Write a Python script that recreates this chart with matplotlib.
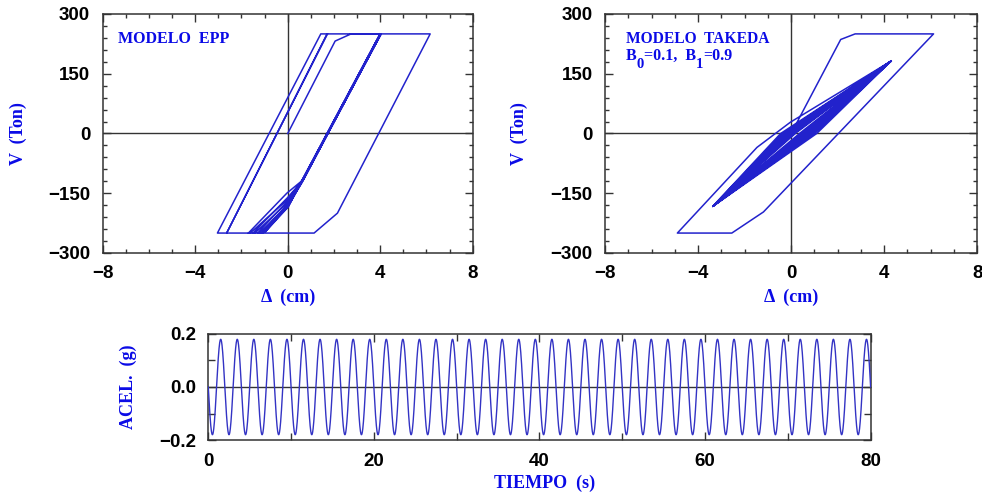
import matplotlib
matplotlib.use("Agg")
import matplotlib.pyplot as plt
import numpy as np
from matplotlib.ticker import MultipleLocator
from matplotlib.transforms import offset_copy

# ---------------- data ----------------
# Elastic-perfectly-plastic hysteresis (displacement cm, shear Ton)
epp_d = [0.00, 2.05, 2.74, 6.16, 2.15, 1.14, -3.04, 1.43, 1.72, -2.64, 1.70, 4.02,
         0.65, -0.04, -1.70, -1.62, 0.00, 0.68, 4.04,
         0.64, 0.01, -1.50, -1.42, 0.02, 0.61, 4.00,
         0.62, 0.02, -1.30, -1.22, 0.03, 0.64, 4.03,
         0.59, 0.03, -1.12, -1.02, 0.03, 0.60, 4.01,
         0.63, 0.03, -0.97, 0.03, 0.58, 3.99]
epp_v = [0, 232, 250, 250, -200, -250, -250, 250, 250, -250, 250, 250,
         -117, -150, -250, -250, -165, -115, 250,
         -118, -160, -250, -250, -172, -118, 250,
         -120, -168, -250, -250, -178, -120, 250,
         -122, -175, -250, -248, -182, -122, 250,
         -122, -180, -247, -184, -122, 250]

# Takeda hysteresis (B0 = 0.1, B1 = 0.9)
tk_d = [0.00, 2.13, 2.75, 6.12, -1.19, -2.55, -4.89, -1.47, -0.04, 4.30,
        1.10, -3.37, -0.45, 4.30,
        1.00, -3.37, -0.37, 4.30,
        0.92, -3.37, -0.30, 4.30,
        0.84, -3.37, -0.23, 4.30,
        0.76, -3.37, -0.16, 4.30,
        0.68, -3.37, -0.09, 4.30,
        0.60, -3.37, -0.02, 4.30,
        0.52, -3.37, 0.05, 4.30,
        0.44, -3.37, 0.12, 4.30,
        0.36, -3.37, 0.18, 4.30]
tk_v = [0, 236, 250, 250, -197, -250, -250, -35, 28, 182,
        0, -183, 0, 182,
        0, -183, 0, 182,
        0, -183, 0, 182,
        0, -183, 0, 182,
        0, -183, 0, 182,
        0, -183, 0, 182,
        0, -183, 0, 182,
        0, -183, 0, 182,
        0, -183, 0, 182,
        0, -183, 0, 182]

# Harmonic ground acceleration read from the record
acc_amplitude = 0.18   # g
acc_period = 2.0       # s
acc_duration = 80.0    # s

hyst_xticks = [-8, -4, 0, 4, 8]
hyst_yticks = [-300, -150, 0, 150, 300]
acc_xticks = [0, 20, 40, 60, 80]
acc_yticks = [-0.2, 0.0, 0.2]

# ---------------- style ----------------
plt.rcParams['font.family'] = ['Liberation Sans', 'DejaVu Sans']
plt.rcParams['font.weight'] = 'bold'

BLUE_TXT = '#0a0ae6'
LINE = '#2222cc'
FRAME = '#333333'
SERIF = ['Liberation Serif', 'DejaVu Serif']
LBL = dict(family=SERIF, weight='bold', color=BLUE_TXT, size=13)

fig = plt.figure(figsize=(9.82, 4.94), dpi=100)
ax1 = fig.add_axes([0.1046, 0.4879, 0.3768, 0.4838])
ax2 = fig.add_axes([0.6161, 0.4879, 0.3791, 0.4838])
ax3 = fig.add_axes([0.2121, 0.1093, 0.6745, 0.2146])


def style(ax):
    for s in ax.spines.values():
        s.set_color(FRAME)
        s.set_linewidth(1.1)
    ax.tick_params(which='both', direction='in', top=True, right=True,
                   color=FRAME, labelcolor='black', labelsize=13.5, width=1.0)
    ax.tick_params(which='major', length=6, pad=9)
    ax.tick_params(which='minor', length=3)
    ax.axhline(0, color=FRAME, lw=1.0, zorder=1)


for ax, d, v in ((ax1, epp_d, epp_v), (ax2, tk_d, tk_v)):
    style(ax)
    ax.axvline(0, color=FRAME, lw=1.0, zorder=1)
    ax.plot(d, v, color=LINE, lw=1.1, zorder=3)
    ax.set_xlim(-8, 8)
    ax.set_ylim(-300, 300)
    ax.set_xticks(hyst_xticks)
    ax.set_yticks(hyst_yticks)
    ax.xaxis.set_minor_locator(MultipleLocator(1))
    ax.yaxis.set_minor_locator(MultipleLocator(30))
    ax.set_xlabel('Δ  (cm)', **LBL)
    ax.set_ylabel('V  (Ton)', **LBL)
    ax.xaxis.label.set_va('center')
    ax.yaxis.label.set_va('center')
    ax.xaxis.set_label_coords(0.5, -0.184)
    ax.yaxis.set_label_coords(-0.229, 0.5)

TXT = dict(family=SERIF, weight='bold', color=BLUE_TXT)
ax1.text(0.042, 0.877, 'MODELO  EPP', transform=ax1.transAxes, va='baseline', size=11.5, **TXT)
ax2.text(0.056, 0.880, 'MODELO  TAKEDA', transform=ax2.transAxes, va='baseline', size=11.2, **TXT)

# second line with deep subscripts
renderer = fig.canvas.get_renderer()
pieces = [('B', 0, 11.5), ('0', -8, 10.5), ('=0.1,  B', 0, 11.5), ('1', -8, 10.5), ('=0.9', 0, 11.5)]
xoff = 0.0
for s, dy, sz in pieces:
    tr = offset_copy(ax2.transAxes, fig=fig, x=xoff, y=dy, units='dots')
    t = ax2.text(0.056, 0.808, s, transform=tr, va='baseline', size=sz, **TXT)
    xoff += t.get_window_extent(renderer).width

# acceleration record
t = np.linspace(0, acc_duration, 4001)
acc = -acc_amplitude * np.sin(2 * np.pi * t / acc_period)
style(ax3)
ax3.plot(t, acc, color='#3333c4', lw=1.0, zorder=3)
ax3.set_xlim(0, 80)
ax3.set_ylim(-0.2, 0.2)
ax3.set_xticks(acc_xticks)
ax3.set_yticks(acc_yticks)
ax3.set_yticklabels([f'{y:.1f}'.replace('-', '\u2212') for y in acc_yticks])
ax3.xaxis.set_minor_locator(MultipleLocator(10))
ax3.yaxis.set_minor_locator(MultipleLocator(0.1))
ax3.tick_params(which='minor', length=5)
ax3.set_xlabel('TIEMPO  (s)', **LBL)
ax3.set_ylabel('ACEL.  (g)', **LBL)
ax3.xaxis.label.set_va('center')
ax3.yaxis.label.set_va('center')
ax3.xaxis.set_label_coords(0.508, -0.406)
ax3.yaxis.set_label_coords(-0.121, 0.5)

fig.savefig('out.png', dpi=100)
